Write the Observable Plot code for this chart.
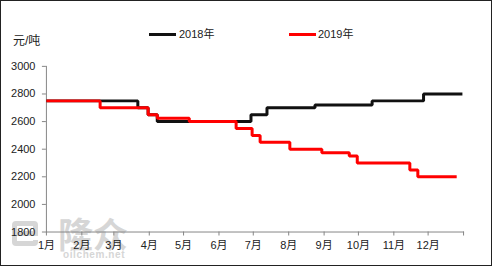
<!DOCTYPE html>
<html>
<head>
<meta charset="utf-8">
<script src="https://cdn.jsdelivr.net/npm/d3@7"></script>
<script src="https://cdn.jsdelivr.net/npm/@observablehq/plot@0.6"></script>
<style>
  html, body { margin: 0; padding: 0; background: #fff; }
  #wrap { position: relative; width: 492px; height: 266px; box-sizing: border-box; border: 1px solid #222; overflow: hidden;
          font-family: "Liberation Sans", "Noto Sans CJK SC", sans-serif; color: #333; }
  #chart { position: absolute; left: -1px; top: -1px; }
  .lg { position: absolute; font-size: 11px; line-height: 12px; font-family: "Liberation Sans", "Noto Sans CJK SC", sans-serif; color: #222; }
  .sw { position: absolute; height: 3px; }
  .wm { position: absolute; color: #d6d6d6; font-family: "Noto Sans CJK SC", sans-serif; }
</style>
</head>
<body>
<div id="wrap">
  <div class="wm" style="left:11px;top:220px;width:26px;height:25px;border:5px solid #d6d6d6;border-radius:4px;box-sizing:border-box;"></div>
  <div class="wm" style="left:14px;top:230px;width:23px;height:5px;background:#d6d6d6;"></div>
  <div class="wm" style="left:32px;top:235px;width:5px;height:4px;background:#fff;"></div>
  <div class="wm" style="left:57px;top:212px;font-size:35px;font-weight:bold;line-height:40px;">隆众</div>
  <div class="wm" style="left:62px;top:249px;font-size:10px;line-height:10px;font-family:'Liberation Sans',sans-serif;font-weight:bold;letter-spacing:0.6px;">oilchem.net</div>
  <div id="chart"></div>
  <div class="lg" style="left:12px;top:34px;font-size:12px;line-height:13px;">元/吨</div>
  <div class="sw" style="left:148px;top:32px;width:27px;background:#111;"></div>
  <div class="lg" style="left:178px;top:27px;">2018年</div>
  <div class="sw" style="left:288px;top:32px;width:27px;background:#ff0000;"></div>
  <div class="lg" style="left:317px;top:27px;">2019年</div>
</div>
<script>
// 2018 (black) price steps, month-day of change
const days2018 = ["01-01","03-22","03-31","04-08","06-29","07-13","08-24","10-13","11-27","12-31"];
const values2018 = [2750, 2700, 2650, 2600, 2650, 2700, 2720, 2750, 2800, 2800];
// 2019 (red) price steps
const days2019 = ["01-01","02-17","03-31","04-08","05-06","06-16","06-30","07-07","08-02","08-30","09-23","09-30","11-15","11-22","12-26"];
const values2019 = [2750, 2700, 2650, 2625, 2600, 2550, 2500, 2450, 2400, 2375, 2350, 2300, 2250, 2200, 2200];
const seriesNames = ["2018年", "2019年"];
const seriesColors = ["#111111", "#ff0000"];
const yTicks = [1800, 2000, 2200, 2400, 2600, 2800, 3000];
const monthLabels = ["1月","2月","3月","4月","5月","6月","7月","8月","9月","10月","11月","12月"];

const baseYear = 2019;
const toDate = s => new Date(`${baseYear}-${s}T00:00:00Z`);
const rows = [];
days2018.forEach((d, i) => rows.push({series: seriesNames[0], date: toDate(d), value: values2018[i]}));
days2019.forEach((d, i) => rows.push({series: seriesNames[1], date: toDate(d), value: values2019[i]}));

const monthTicks = d3.utcMonth.range(new Date(Date.UTC(baseYear, 0, 1)), new Date(Date.UTC(baseYear + 1, 0, 2)));

const chart = Plot.plot({
  width: 492,
  height: 266,
  marginLeft: 46,
  marginRight: 28,
  marginTop: 66,
  marginBottom: 34,
  style: {fontFamily: "'Liberation Sans','Noto Sans CJK SC',sans-serif", fontSize: "11px", color: "#222", background: "transparent"},
  x: {type: "utc", domain: [new Date(Date.UTC(baseYear, 0, 1)), new Date(Date.UTC(baseYear + 1, 0, 1))]},
  y: {domain: [1800, 3000]},
  color: {domain: seriesNames, range: seriesColors},
  marks: [
    Plot.axisY({ticks: yTicks, tickSize: 4, tickPadding: 7, stroke: "#868686", label: null, tickFormat: d => String(d)}),
    Plot.axisX({ticks: monthTicks, tickSize: 4, tickPadding: 5, stroke: "#868686", label: null,
      tickFormat: d => d.getUTCFullYear() === baseYear ? monthLabels[d.getUTCMonth()] : ""}),
    Plot.frame({anchor: "left", stroke: "#868686"}),
    Plot.frame({anchor: "bottom", stroke: "#868686"}),
    Plot.line(rows, {x: "date", y: "value", z: "series", stroke: "series", strokeWidth: 3, curve: "step-after", strokeLinejoin: "miter", strokeLinecap: "butt"})
  ]
});
document.getElementById("chart").appendChild(chart);
</script>
</body>
</html>
